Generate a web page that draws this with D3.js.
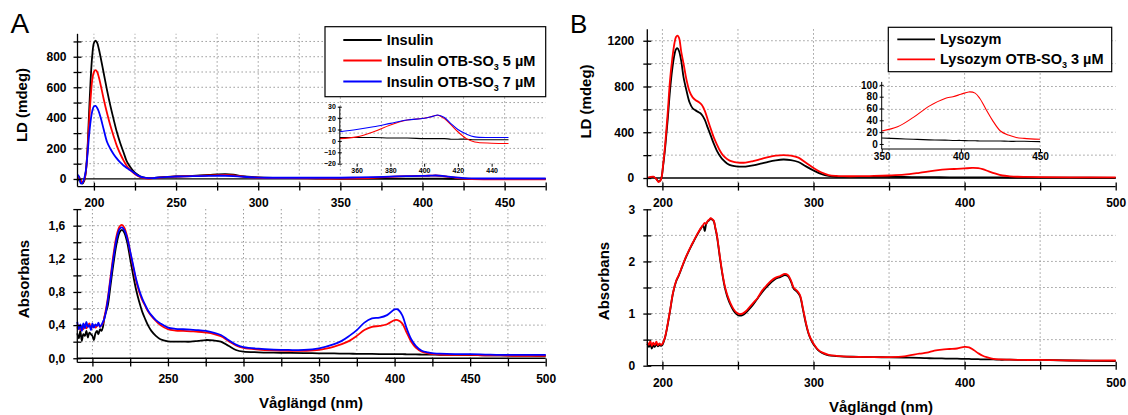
<!DOCTYPE html>
<html><head><meta charset="utf-8">
<script src="https://cdn.jsdelivr.net/npm/d3@7"></script>
<style>
body{margin:0;background:#fff;}
svg{display:block;font-family:"Liberation Sans",Arial,sans-serif;}
.grid{stroke:#8a8a8a;stroke-width:1;stroke-dasharray:1.3,2.7;fill:none;}
</style></head><body>
<svg id="chart" width="1128" height="415"></svg>
<script>
// ---------- Panel A : LD (mdeg) ----------
const A_LD_wl = [190,191,192,193,194,195,196,197,198,199,200,201,202,203,204,206,208,210,212,214,216,218,220,222,224,226,228,230,233,236,240,245,250,260,270,275,280,285,290,300,310,320,330,340,350,360,370,380,390,400,405,408,412,416,420,425,430,440,450,460,475];
const A_LD_insulin = [-15,5,-20,-30,-15,40,180,420,650,810,890,905,890,850,800,690,580,480,390,305,235,175,115,80,52,32,17,10,5,6,10,14,17,20,26,30,32,28,18,10,7,6,5,4,3,3,3,2.5,2.5,2,2,2,2,1.5,1.5,1.5,1,1,1,1,0.5];
const A_LD_otb5 = [0,10,-10,-25,-10,40,170,360,530,650,700,712,700,665,620,520,430,350,280,215,165,122,85,60,40,24,13,7,3,5,9,13,16,19,23,25,26,23,16,8,6,5,4,3,2,3.5,8,14,18.3,19.8,21.5,22.5,19.5,14,8,2,-1,-2,-2.3,-2,-2];
const A_LD_otb7 = [28,15,-30,-25,0,50,150,280,380,445,475,478,465,440,405,322,242,198,162,133,108,88,72,58,44,28,17,10,5,6,10,13,16,18,20,21,21,19,15,9,8,8,8,8,8,10,12.4,15.4,18.3,19.8,21.5,22.7,20.5,15,10,6,3.5,3,3,3,3];

// ---------- Panel A : Absorbans ----------
const A_ABS_wl = [190,191,192,193,194,195,196,197,198,199,200,201,202,203,204,205,206,207,208,210,212,214,216,218,219.5,221,223,225,227,229,231,233,235,237,239,242,245,250,255,260,265,270,275,280,285,290,295,300,310,320,330,340,350,360,365,370,375,380,385,390,395,400,402,405,408,411,414,418,422,426,430,440,450,460,470,480,490,500];
const A_ABS_insulin = [0.30,0.24,0.33,0.21,0.29,0.27,0.33,0.25,0.31,0.29,0.27,0.22,0.30,0.33,0.29,0.35,0.33,0.38,0.50,0.62,0.88,1.15,1.38,1.52,1.55,1.52,1.40,1.20,1.00,0.82,0.68,0.56,0.47,0.39,0.33,0.27,0.23,0.205,0.20,0.20,0.20,0.21,0.22,0.215,0.20,0.15,0.10,0.08,0.072,0.068,0.065,0.062,0.06,0.058,0.056,0.055,0.054,0.053,0.052,0.051,0.05,0.05,0.05,0.049,0.048,0.047,0.046,0.045,0.044,0.043,0.042,0.04,0.038,0.036,0.034,0.033,0.031,0.03];
const A_ABS_otb5 = [0.36,0.40,0.34,0.38,0.35,0.41,0.36,0.39,0.42,0.36,0.38,0.40,0.37,0.39,0.41,0.38,0.40,0.42,0.50,0.70,0.98,1.26,1.48,1.59,1.61,1.58,1.47,1.28,1.10,0.93,0.80,0.70,0.63,0.56,0.51,0.45,0.40,0.35,0.335,0.33,0.325,0.32,0.31,0.295,0.265,0.21,0.155,0.125,0.105,0.095,0.09,0.09,0.10,0.14,0.17,0.21,0.27,0.34,0.38,0.39,0.41,0.46,0.46,0.42,0.31,0.20,0.13,0.08,0.06,0.05,0.045,0.04,0.04,0.035,0.035,0.03,0.03,0.03];
const A_ABS_otb7 = [0.44,0.35,0.41,0.33,0.42,0.36,0.44,0.38,0.40,0.34,0.42,0.37,0.41,0.39,0.43,0.38,0.40,0.44,0.48,0.68,0.95,1.22,1.44,1.56,1.58,1.55,1.45,1.29,1.12,0.95,0.82,0.72,0.64,0.57,0.52,0.46,0.42,0.37,0.355,0.35,0.345,0.34,0.33,0.31,0.28,0.22,0.165,0.135,0.115,0.105,0.10,0.10,0.12,0.17,0.21,0.27,0.34,0.43,0.48,0.49,0.52,0.59,0.59,0.52,0.36,0.23,0.15,0.09,0.07,0.06,0.055,0.05,0.05,0.045,0.04,0.04,0.04,0.04];

// ---------- Panel B : LD (mdeg) ----------
const B_LD_wl = [190,192,194,196,197.5,199,200.5,202,203.5,205,206.5,208,209,210,211,212.5,214,216,218,220,222,224,226,228,230,232,234,236,238,240,243,246,250,255,260,265,270,275,280,285,290,295,300,305,310,315,320,330,340,350,360,370,380,390,395,400,405,409,412,416,420,425,430,435,440,450,470,500];
const B_LD_lysozym = [0,6,10,-8,-30,-12,110,290,510,760,950,1080,1125,1134,1110,1020,880,760,660,610,590,575,555,510,440,370,300,240,195,160,125,108,100,100,110,125,142,155,162,157,140,102,66,36,18,11,10,10,10,10,9,8,7,6.5,6,6,5.5,5.5,5,5,5,5,4.5,4.5,4.5,4,3,2];
const B_LD_otb3 = [0,8,12,-10,-35,-15,120,320,570,850,1040,1180,1232,1244,1225,1100,1000,855,755,705,680,665,640,590,510,430,355,295,240,200,165,145,135,135,148,165,182,195,200,195,178,133,88,50,26,18,16,16,18,22,29,45,64,77,80,84,88,86,77,58,40,22,15,11,9.5,8,6,5];

// ---------- Panel B : Absorbans ----------
const B_ABS_wl = [190,191,192,193,194,195,196,197,198,199,200,201,202,203,205,207,209,211,213,215,217,219,221,223,225,227,228,229,230,231,232,233,234,235,236,237,238,239,240,241,242,243,245,247,249,251,253,255,257,260,263,266,269,272,275,278,281,283,285,287,289,291,293,295,297,299,301,303,306,310,315,320,330,340,350,360,370,375,380,385,390,395,400,403,406,409,412,415,419,423,430,440,450,470,500];
const B_ABS_lysozym = [0.42,0.36,0.41,0.33,0.39,0.36,0.42,0.37,0.40,0.38,0.40,0.47,0.57,0.71,1.04,1.39,1.61,1.74,1.89,2.04,2.17,2.29,2.40,2.51,2.61,2.69,2.58,2.72,2.77,2.79,2.82,2.80,2.77,2.64,2.50,2.30,2.08,1.88,1.70,1.54,1.42,1.32,1.17,1.06,0.99,0.96,0.97,1.01,1.07,1.17,1.29,1.41,1.51,1.60,1.67,1.70,1.74,1.72,1.62,1.47,1.42,1.34,1.08,0.80,0.59,0.46,0.37,0.30,0.24,0.20,0.185,0.175,0.17,0.165,0.16,0.155,0.15,0.145,0.14,0.14,0.135,0.135,0.13,0.13,0.125,0.125,0.12,0.12,0.12,0.115,0.115,0.11,0.11,0.10,0.09];
const B_ABS_otb3 = [0.45,0.40,0.47,0.38,0.44,0.40,0.46,0.39,0.43,0.40,0.42,0.48,0.58,0.72,1.05,1.40,1.62,1.75,1.90,2.05,2.18,2.30,2.41,2.52,2.62,2.70,2.74,2.72,2.78,2.80,2.83,2.81,2.78,2.65,2.52,2.32,2.10,1.90,1.72,1.57,1.45,1.35,1.20,1.09,1.02,0.99,1.00,1.04,1.10,1.20,1.30,1.44,1.54,1.63,1.69,1.72,1.76,1.74,1.64,1.49,1.44,1.36,1.10,0.82,0.60,0.47,0.38,0.31,0.25,0.21,0.19,0.18,0.17,0.165,0.165,0.18,0.23,0.25,0.29,0.31,0.32,0.33,0.36,0.35,0.30,0.24,0.19,0.16,0.13,0.12,0.115,0.11,0.11,0.10,0.10];

// ---------- Labels ----------
const legendA = ["Insulin", "Insulin OTB-SO|3| 5 µM", "Insulin OTB-SO|3| 7 µM"];
const legendB = ["Lysozym", "Lysozym OTB-SO|3| 3 µM"];
const colorsA = ["#000000", "#ff0000", "#0000ff"];
const colorsB = ["#000000", "#ff0000"];
const xTitle = "Våglängd (nm)";
const yTitleLD = "LD (mdeg)";
const yTitleAbs = "Absorbans";

const svg = d3.select("#chart");
const comma = v => d3.format(".1f")(v).replace(".", ",");

function series(wl, vals) { return wl.map((w, i) => ({x: w, y: vals[i]})); }

function drawPanel(o) {
  const g = svg.append("g");
  const x = d3.scaleLinear().domain(o.xDomain).range(o.xRange);
  const y = d3.scaleLinear().domain(o.yDomain).range(o.yRange);
  const [y0, y1] = o.yRange, [x0, x1] = o.xRange;
  o.xGrid.forEach(v => g.append("line").attr("class","grid").attr("x1",x(v)).attr("x2",x(v)).attr("y1",y0).attr("y2",y1));
  o.yGrid.forEach(v => g.append("line").attr("class","grid").attr("x1",x0).attr("x2",x1).attr("y1",y(v)).attr("y2",y(v)));
  if (o.zeroLine) g.append("line").attr("x1",x0).attr("x2",x1).attr("y1",y(0)).attr("y2",y(0)).attr("stroke","#000").attr("stroke-width",1.3);
  const line = d3.line().x(d => x(d.x)).y(d => y(d.y)).curve(d3.curveCatmullRom.alpha(0.5));
  o.data.forEach((s, i) => {
    g.append("path").datum(s).attr("d", line).attr("fill","none").attr("stroke", o.colors[i]).attr("stroke-width", o.lw || 1.8).attr("stroke-linejoin","round");
  });
  // y axis
  const ya = g.append("g").attr("transform", `translate(${x0},0)`)
    .call(d3.axisLeft(y).tickValues(o.yTicks).tickSize(4).tickPadding(o.yPad || 7)
      .tickFormat(v => o.yLabels.some(l => Math.abs(l - v) < 1e-9) ? o.yFmt(v) : ""));
  ya.select(".domain").attr("d", `M0,${y0}V${y1}`).attr("stroke-width",1.3);
  ya.selectAll(".tick line").attr("x1", 4).attr("x2", -4).attr("stroke-width",1.3);
  ya.selectAll("text").attr("font-size", o.fs || 12).attr("font-weight","bold").attr("fill","#000").attr("font-family","Liberation Sans, Arial, sans-serif");
  // x axis
  const xa = g.append("g").attr("transform", `translate(0,${y0})`)
    .call(d3.axisBottom(x).tickValues(o.xTicks).tickSize(4).tickPadding(o.xPad || 8)
      .tickFormat(v => o.xLabels.includes(v) ? String(v) : ""));
  xa.select(".domain").attr("d", `M${x0},0H${x1}`).attr("stroke-width",1.3);
  xa.selectAll(".tick line").attr("y1", -4).attr("y2", 4).attr("stroke-width",1.3);
  xa.selectAll("text").attr("font-size", o.fs || 12).attr("font-weight","bold").attr("fill","#000").attr("font-family","Liberation Sans, Arial, sans-serif");
  return {x, y};
}

function drawInset(o) {
  const g = svg.append("g");
  const x = d3.scaleLinear().domain(o.xDomain).range(o.xRange);
  const y = d3.scaleLinear().domain(o.yDomain).range(o.yRange);
  const line = d3.line().x(d => x(d.x)).y(d => y(d.y)).curve(d3.curveCatmullRom.alpha(0.5));
  o.data.forEach((s, i) => {
    g.append("path").datum(s.filter(d => d.x >= o.xDomain[0] && d.x <= o.xDomain[1]))
      .attr("d", line).attr("fill","none").attr("stroke", o.colors[i]).attr("stroke-width", 1.1);
  });
  const ya = g.append("g").attr("transform", `translate(${o.xRange[0]},0)`)
    .call(d3.axisLeft(y).tickValues(o.yTicks).tickSize(2).tickPadding(2));
  ya.select(".domain").attr("d", `M0,${o.yRange[0]}V${o.yRange[1]}`);
  ya.selectAll(".tick line").attr("x1", 2).attr("x2", -2);
  ya.selectAll("text").attr("font-size", o.fs).attr("font-weight","bold").attr("fill","#000").attr("font-family","Liberation Sans, Arial, sans-serif");
  const xa = g.append("g").attr("transform", `translate(0,${o.yRange[0]})`)
    .call(d3.axisBottom(x).tickValues(o.xTicks).tickSize(3).tickPadding(o.xPad));
  if (o.bottomLine) xa.select(".domain").attr("d", `M${o.xRange[0]},0H${o.xRange[1]}`);
  else xa.select(".domain").remove();
  xa.selectAll("text").attr("font-size", o.fs).attr("font-weight","bold").attr("fill","#000").attr("font-family","Liberation Sans, Arial, sans-serif");
}

function legend(o) {
  const g = svg.append("g");
  g.append("rect").attr("x", o.x).attr("y", o.y).attr("width", o.w).attr("height", o.h)
    .attr("fill","#fff").attr("stroke","#000").attr("stroke-width",1.2);
  o.items.forEach((t, i) => {
    const yy = o.rows[i];
    g.append("line").attr("x1", o.lx0).attr("x2", o.lx1).attr("y1", yy).attr("y2", yy).attr("stroke", o.colors[i]).attr("stroke-width", 1.8);
    const parts = t.split("|");
    const tx = g.append("text").attr("x", o.tx).attr("y", yy + 5).attr("font-size", o.fs).attr("font-weight","bold");
    tx.append("tspan").text(parts[0]);
    if (parts.length > 1) {
      tx.append("tspan").attr("dy", 4).attr("font-size", o.fs * 0.62).text(parts[1]);
      tx.append("tspan").attr("dy", -4).text(parts[2]);
    }
  });
}

function rotLabel(txt, x, y) {
  svg.append("text").attr("transform", `translate(${x},${y}) rotate(-90)`).attr("text-anchor","middle")
    .attr("dominant-baseline","central").attr("font-size",15).attr("font-weight","bold").text(txt);
}

// ===== Panel A top =====
drawPanel({
  xDomain:[190,475], xRange:[77.5,545.7], yDomain:[-50,950], yRange:[186.6,33.8],
  xGrid: d3.range(200,475,25), yGrid: d3.range(100,1000,100), zeroLine:true,
  xTicks: d3.range(200,476,25), xLabels:[200,250,300,350,400,450],
  yTicks: d3.range(0,1000,100), yLabels:[0,200,400,600,800], yFmt: d3.format("d"),
  data:[series(A_LD_wl,A_LD_insulin), series(A_LD_wl,A_LD_otb5), series(A_LD_wl,A_LD_otb7)], colors: colorsA
});
// ===== Panel A bottom =====
drawPanel({
  xDomain:[190,500], xRange:[77.3,545.7], yDomain:[-0.05,1.8], yRange:[362.4,209.1],
  xGrid: d3.range(200,500,25), yGrid:[0.2,0.4,0.6,0.8,1.0,1.2,1.4,1.6], zeroLine:true,
  xTicks: d3.range(200,501,25), xLabels:[200,250,300,350,400,450,500],
  yTicks:[0,0.2,0.4,0.6,0.8,1.0,1.2,1.4,1.6,1.8], yLabels:[0,0.4,0.8,1.2,1.6], yFmt: comma, yPad: 8,
  data:[series(A_ABS_wl,A_ABS_insulin), series(A_ABS_wl,A_ABS_otb5), series(A_ABS_wl,A_ABS_otb7)], colors: colorsA
});
// ===== Panel B top =====
drawPanel({
  xDomain:[190,500], xRange:[647.3,1115.7], yDomain:[-75,1300], yRange:[186.6,29.3],
  xGrid: d3.range(200,500,50), yGrid: d3.range(200,1300,200), zeroLine:true,
  xTicks: d3.range(200,501,50), xLabels:[200,300,400,500],
  yTicks: d3.range(0,1300,200), yLabels:[0,400,800,1200], yFmt: d3.format("d"), yPad: 9,
  data:[series(B_LD_wl,B_LD_lysozym), series(B_LD_wl,B_LD_otb3)], colors: colorsB
});
// ===== Panel B bottom =====
drawPanel({
  xDomain:[190,500], xRange:[647.3,1115.7], yDomain:[0,3], yRange:[365.7,209.3],
  xGrid: d3.range(200,500,50), yGrid:[0.5,1,1.5,2,2.5], zeroLine:false,
  xTicks: d3.range(200,501,50), xLabels:[200,300,400,500], xPad: 9,
  yTicks:[0,0.5,1,1.5,2,2.5,3], yLabels:[0,1,2,3], yFmt: d3.format("d"), yPad: 8,
  data:[series(B_ABS_wl,B_ABS_lysozym), series(B_ABS_wl,B_ABS_otb3)], colors: colorsB
});

// ===== Insets =====
drawInset({
  xDomain:[350,450], xRange:[339.8,508.5], yDomain:[-20,30], yRange:[163.7,106.7],
  yTicks:[-20,-10,0,10,20,30], xTicks:[360,380,400,420,440], fs:7, xPad:1, bottomLine:false,
  data:[series(A_LD_wl,A_LD_insulin), series(A_LD_wl,A_LD_otb5), series(A_LD_wl,A_LD_otb7)], colors: colorsA
});
drawInset({
  xDomain:[350,450], xRange:[881.7,1040], yDomain:[-8.5,105], yRange:[149,81.9],
  yTicks:[0,20,40,60,80,100], xTicks:[350,400,450], fs:10, xPad:1, bottomLine:true,
  data:[series(B_LD_wl,B_LD_lysozym), series(B_LD_wl,B_LD_otb3)], colors: colorsB
});

// ===== Legends =====
legend({x:325, y:26.7, w:220.7, h:70, lx0:343.3, lx1:381.7, tx:386.7, rows:[40,60.5,81.5], fs:14.5, items:legendA, colors:colorsA});
legend({x:888.3, y:27.3, w:223.4, h:44.4, lx0:897.3, lx1:935, tx:940, rows:[39.3,59.3], fs:14.5, items:legendB, colors:colorsB});

// ===== Titles =====
rotLabel(yTitleLD, 21, 105);
rotLabel(yTitleAbs, 23.5, 279);
rotLabel(yTitleLD, 585, 101.5);
rotLabel(yTitleAbs, 603.5, 281);
svg.append("text").attr("x",311).attr("y",408).attr("text-anchor","middle").attr("font-size",15).attr("font-weight","bold").text(xTitle);
svg.append("text").attr("x",881).attr("y",412).attr("text-anchor","middle").attr("font-size",15).attr("font-weight","bold").text(xTitle);
svg.append("text").attr("x",10.5).attr("y",33.3).attr("font-size",28).text("A");
svg.append("text").attr("x",570).attr("y",33.3).attr("font-size",26).text("B");
</script>
</body></html>
